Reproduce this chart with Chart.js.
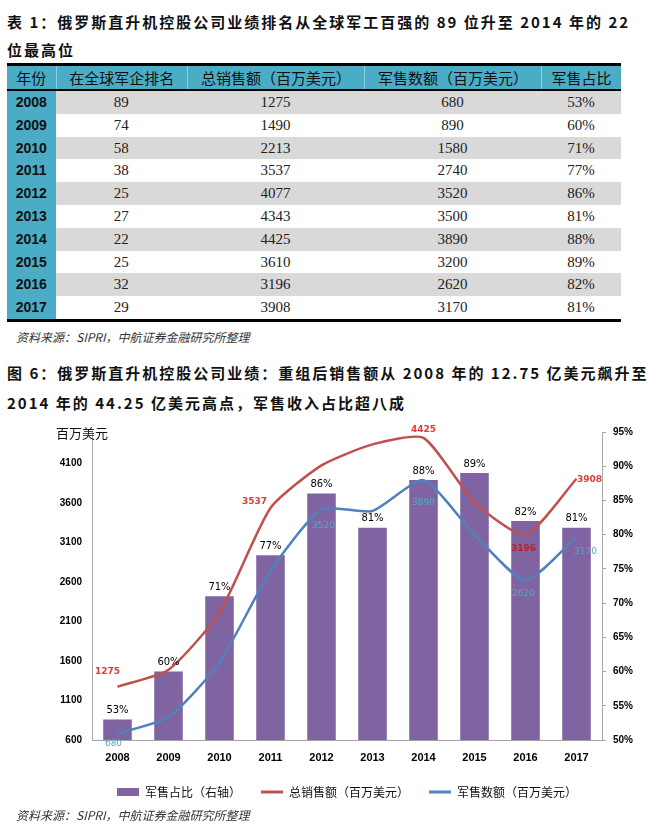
<!DOCTYPE html>
<html>
<head>
<meta charset="utf-8">
<script src="https://cdn.jsdelivr.net/npm/chart.js@4.4.1/dist/chart.umd.min.js"></script>
<style>
  body { margin: 0; background: #fff; width: 650px; height: 828px; position: relative; overflow: hidden;
         font-family: "Noto Sans CJK SC", sans-serif; color: #111; }
  .cap { position: absolute; left: 7px; font-size: 15px; font-weight: 700; letter-spacing: 2px;
         white-space: nowrap; line-height: 20px; }
  .src { position: absolute; left: 16px; font-size: 12px; font-style: italic; color: #333;
         white-space: nowrap; line-height: 16px; }
  #tbl { position: absolute; left: 7px; top: 63px; width: 614px; border-top: 3px solid #000;
         border-bottom: 3px solid #000; }
  .row { display: flex; height: 22.8px; line-height: 22.8px; }
  .row div { text-align: center; white-space: nowrap; }
  .head { height: 23px; line-height: 23px; background: #4BACC6; border-bottom: 2px solid #000; }
  .head div { font-size: 15px; color: #111; border-left: 1px solid #8fd0e0; box-sizing: border-box; }
  .head div:first-child { border-left: none; }
  .body div { font-family: "Liberation Serif", serif; font-size: 15px; color: #222; }
  .body div.yr { background: #4BACC6; font-family: "Liberation Sans", sans-serif; font-weight: 700;
                 font-size: 14px; color: #111; }
  .body.alt div:not(.yr) { background: #D9D9D9; }
  #wrap { position: absolute; left: 0; top: 410px; width: 650px; height: 398px; }
</style>
</head>
<body>

<div class="cap" style="top:12px">表 1：俄罗斯直升机控股公司业绩排名从全球军工百强的 89 位升至 2014 年的 22</div>
<div class="cap" style="top:40px">位最高位</div>
<div id="tbl"></div>
<div class="src" style="top:329px">资料来源：SIPRI，中航证券金融研究所整理</div>
<div class="cap" style="top:363px">图 6：俄罗斯直升机控股公司业绩：重组后销售额从 2008 年的 12.75 亿美元飙升至</div>
<div class="cap" style="top:393px">2014 年的 44.25 亿美元高点，军售收入占比超八成</div>
<div id="wrap"><canvas id="my_chart"></canvas></div>
<div class="src" style="top:807px">资料来源：SIPRI，中航证券金融研究所整理</div>

<script>
const years = ['2008', '2009', '2010', '2011', '2012', '2013', '2014', '2015', '2016', '2017'];
const globalRank = [89, 74, 58, 38, 25, 27, 22, 25, 32, 29];
const totalSales = [1275, 1490, 2213, 3537, 4077, 4343, 4425, 3610, 3196, 3908];
const militarySales = [680, 890, 1580, 2740, 3520, 3500, 3890, 3200, 2620, 3170];
const militaryShare = [53, 60, 71, 77, 86, 81, 88, 89, 82, 81];

const tableHeaders = ['年份', '在全球军企排名', '总销售额（百万美元）', '军售数额（百万美元）', '军售占比'];
const seriesNames = ['军售占比（右轴）', '总销售额（百万美元）', '军售数额（百万美元）'];
const leftTicks = [600, 1100, 1600, 2100, 2600, 3100, 3600, 4100];
const rightTicks = [50, 55, 60, 65, 70, 75, 80, 85, 90, 95];
const leftUnit = '百万美元';

// table
const colWidths = [48.5, 131.5, 177, 177, 80];
function build_table() {
  const tbl = document.getElementById('tbl');
  let html = '<div class="row head">';
  tableHeaders.forEach((h, i) => { html += '<div style="width:' + colWidths[i] + 'px">' + h + '</div>'; });
  html += '</div>';
  years.forEach((y, r) => {
    const cells = [y, globalRank[r], totalSales[r], militarySales[r], militaryShare[r] + '%'];
    html += '<div class="row body' + (r % 2 === 0 ? ' alt' : '') + '">';
    cells.forEach((c, i) => {
      html += '<div' + (i === 0 ? ' class="yr"' : '') + ' style="width:' + colWidths[i] + 'px">' + c + '</div>';
    });
    html += '</div>';
  });
  tbl.innerHTML = html;
}

// value labels drawn next to the library's own elements
const valueLabels = {
  id: 'valueLabels',
  afterDatasetsDraw(chart, args, opts) {
    const ctx = chart.ctx;
    opts.sets.forEach((set, di) => {
      const meta = chart.getDatasetMeta(di);
      const data = chart.data.datasets[di].data;
      meta.data.forEach((el, i) => {
        const off = set.offsets[i];
        if (!off) return;
        const p = el.getProps(['x', 'y'], true);
        ctx.save();
        ctx.font = set.font;
        ctx.fillStyle = Array.isArray(set.color) ? set.color[i] : set.color;
        ctx.textAlign = 'center';
        ctx.textBaseline = 'middle';
        ctx.fillText(data[i] + set.suffix, p.x + off[0], p.y + off[1]);
        ctx.restore();
      });
    });
    const area = chart.chartArea;
    ctx.save();
    ctx.font = '13px "Noto Sans CJK SC"';
    ctx.fillStyle = '#111';
    ctx.textAlign = 'center';
    ctx.textBaseline = 'middle';
    ctx.fillText(leftUnit, area.left - 10, area.top + 1);
    ctx.restore();
  }
};

function create_chart() {
  const data = {
    labels: years,
    datasets: [{
      type: 'bar',
      label: seriesNames[0],
      data: militaryShare,
      yAxisID: 'y1',
      backgroundColor: '#8064A2',
      borderColor: '#8064A2',
      barPercentage: 0.56,
      categoryPercentage: 1.0,
      order: 2
    }, {
      type: 'line',
      label: seriesNames[1],
      data: totalSales,
      yAxisID: 'y',
      borderColor: '#C0504D',
      backgroundColor: '#C0504D',
      borderWidth: 2.5,
      pointRadius: 0,
      tension: 0.2,
      order: 1
    }, {
      type: 'line',
      label: seriesNames[2],
      data: militarySales,
      yAxisID: 'y',
      borderColor: '#4F81BD',
      backgroundColor: '#4F81BD',
      borderWidth: 2.5,
      pointRadius: 0,
      tension: 0.2,
      order: 1
    }]
  };

  const config = {
    data,
    options: {
      responsive: true,
      maintainAspectRatio: false,
      animation: false,
      layout: { padding: { top: 22, left: 0, right: 0, bottom: 0 } },
      scales: {
        x: {
          offset: true,
          grid: { display: false, drawTicks: false },
          border: { display: true, color: '#A6A6A6', width: 1 },
          ticks: { color: '#000', padding: 11, font: { family: 'Liberation Sans', size: 11, weight: 'bold' } },
          afterFit: (s) => { s.height = 26; }
        },
        y: {
          position: 'left',
          min: 600,
          max: 4500,
          grid: { display: false, drawTicks: false },
          border: { display: true, color: '#A6A6A6', width: 1 },
          ticks: { color: '#000', padding: 10, font: { family: 'Liberation Sans', size: 10, weight: 'bold' },
                   callback: (v) => String(v) },
          afterBuildTicks: (s) => { s.ticks = leftTicks.map(v => ({ value: v })); },
          afterFit: (s) => { s.width = 92; }
        },
        y1: {
          position: 'right',
          min: 50,
          max: 95,
          grid: { display: true, drawOnChartArea: false, drawTicks: true, tickLength: 4, color: '#A6A6A6' },
          border: { display: true, color: '#A6A6A6', width: 1 },
          ticks: { color: '#000', padding: 7, font: { family: 'Liberation Sans', size: 10, weight: 'bold' },
                   callback: (v) => v + '%' },
          afterBuildTicks: (s) => { s.ticks = rightTicks.map(v => ({ value: v })); },
          afterFit: (s) => { s.width = 48; }
        }
      },
      plugins: {
        tooltip: { enabled: false },
        legend: {
          position: 'bottom',
          fullSize: false,
          labels: {
            usePointStyle: true,
            pointStyleWidth: 22,
            boxHeight: 8,
            padding: 20,
            color: '#111',
            font: { family: 'Noto Sans CJK SC', size: 12 },
            generateLabels: (chart) => {
              const items = Chart.defaults.plugins.legend.labels.generateLabels(chart);
              items.forEach(it => {
                const ds = chart.data.datasets[it.datasetIndex];
                it.pointStyle = ds.type === 'line' ? 'line' : 'rect';
                it.lineWidth = ds.type === 'line' ? 3 : 0;
                it.strokeStyle = ds.borderColor;
                it.fillStyle = ds.backgroundColor;
              });
              return items.sort((a, b) => a.datasetIndex - b.datasetIndex);
            }
          }
        },
        valueLabels: {
          sets: [
            { font: '10px "DejaVu Sans"', color: '#000', suffix: '%',
              offsets: militaryShare.map(() => [0, -9]) },
            { font: 'bold 9px "DejaVu Sans"', color: ['#E03A3A', '', '', '#E03A3A', '', '', '#E03A3A', '', '#B8202A', '#E03A3A'],
              suffix: '',
              offsets: [[-10, -15], null, null, [-16, -6], null, null, [0, -8], null, [-2, 14], [13, 1]] },
            { font: '9px "DejaVu Sans"', color: '#4BACC6', suffix: '',
              offsets: [[-4, 10], null, null, null, [2, 16], null, [0, 22], null, [-2, 13], [9, 15]] }
          ]
        }
      }
    },
    plugins: [valueLabels]
  };

  const canv = document.getElementById('my_chart');
  new Chart(canv.getContext('2d'), config);
}

build_table();
create_chart();
</script>
</body>
</html>
